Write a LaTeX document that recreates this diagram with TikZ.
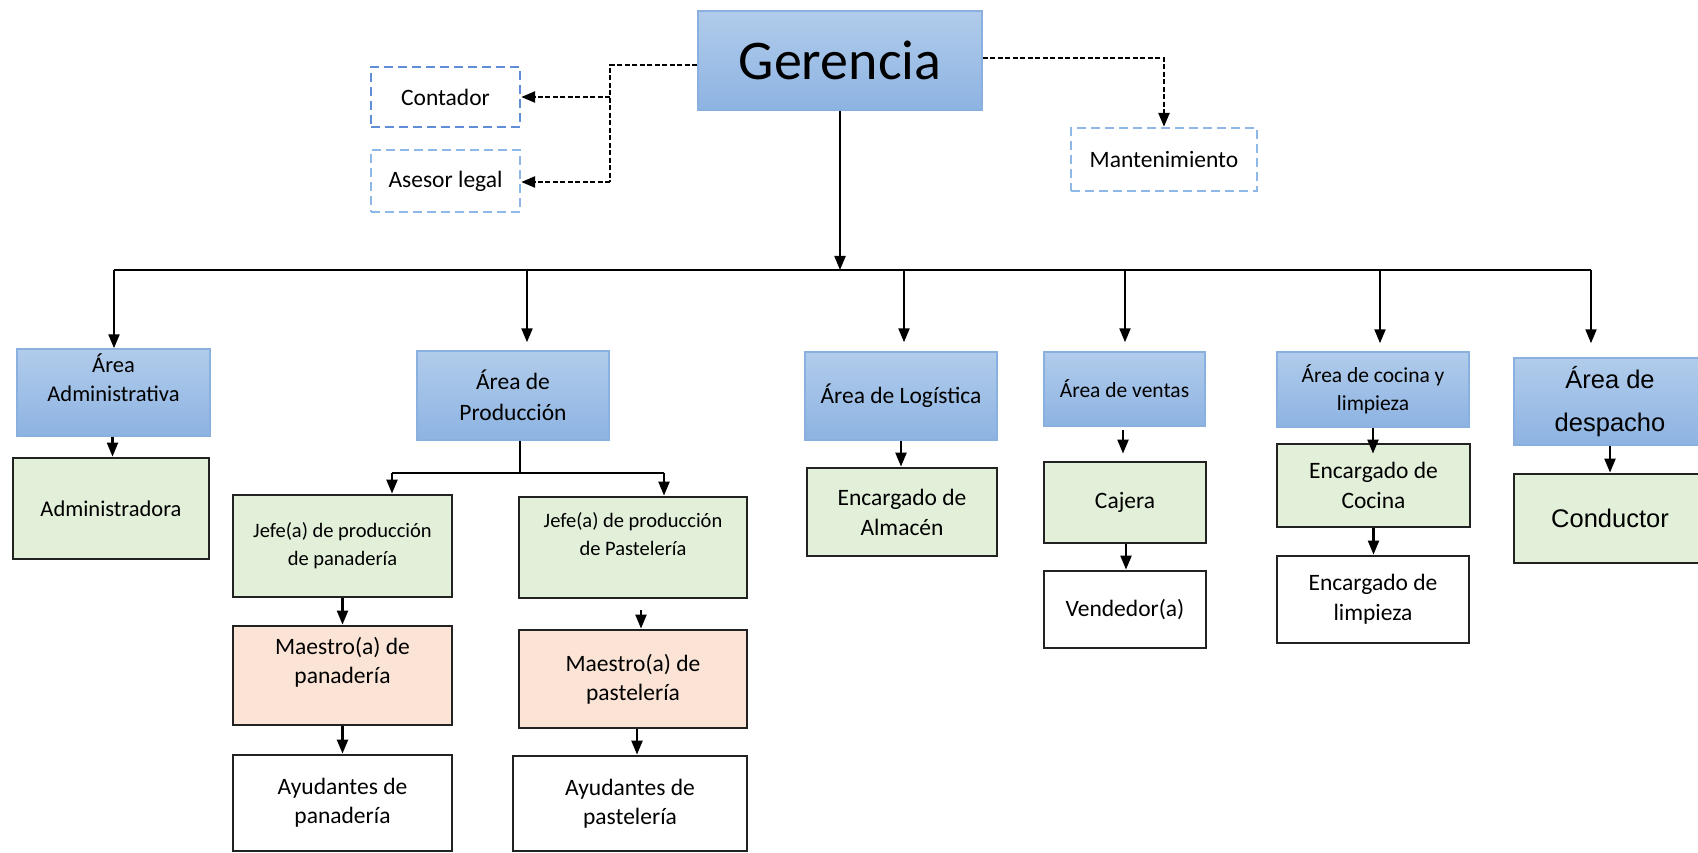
\documentclass[tikz,border=0pt]{standalone}
\usepackage{fontspec}
\setmainfont{Carlito}
\newfontfamily\arialf{Liberation Sans}
\usetikzlibrary{arrows.meta,calc}
\definecolor{blueTop}{HTML}{B1CCEB}
\definecolor{blueBot}{HTML}{8DB3E2}
\definecolor{blueBorder}{HTML}{8AB0E0}
\definecolor{greenF}{HTML}{E2EFD9}
\definecolor{peachF}{HTML}{FBE4D5}
\definecolor{darkB}{HTML}{222222}
\definecolor{dashBlueA}{HTML}{5F8DD6}
\definecolor{dashBlueB}{HTML}{8DB8E8}
\tikzset{
  bluebox/.style={rectangle, draw=blueBorder, line width=1.5pt, top color=blueTop, bottom color=blueBot, align=center, inner sep=0pt},
  greenbox/.style={rectangle, draw=darkB, line width=2.8pt, fill=greenF, align=center, inner sep=0pt},
  peachbox/.style={rectangle, draw=darkB, line width=2.8pt, fill=peachF, align=center, inner sep=0pt},
  whitebox/.style={rectangle, draw=darkB, line width=2.8pt, fill=white, align=center, inner sep=0pt},
  dbox/.style={rectangle, draw=#1, dash pattern=on 9pt off 5pt, line width=2.4pt, fill=white, align=center, inner sep=0pt},
  txt/.style={align=center, inner sep=0pt},
  conn/.style={line width=2.2pt, draw=black, -{Triangle[length=14pt,width=11pt]}},
  plain/.style={line width=2.2pt, draw=black},
  dconn/.style={line width=2.6pt, draw=black, dash pattern=on 5pt off 2.5pt, -{Triangle[length=14pt,width=11pt]}},
  dplain/.style={line width=2.6pt, draw=black, dash pattern=on 5pt off 2.5pt},
  fA/.style={font=\fontsize{23.5}{30}\selectfont},
}
\begin{document}
\begin{tikzpicture}[x=1pt,y=-1pt]
\useasboundingbox (0,0) rectangle (1698,853);
\begin{scope}
\clip (0,0) rectangle (1698,853);
\fill[white] (0,0) rectangle (1698,853);

% top level
\node[bluebox, minimum width=284pt, minimum height=99pt, font=\fontsize{56}{60}\selectfont] (ger) at (840,60.5) {Gerencia};
\node[dbox=dashBlueA, minimum width=149pt, minimum height=60pt, fA] (con) at (445.5,97) {Contador};
\node[dbox=dashBlueB, minimum width=149pt, minimum height=62pt, fA] (ase) at (445.5,181) {Asesor legal};
\node[dbox=dashBlueB, minimum width=186pt, minimum height=63pt, fA] (man) at (1164,159.5) {Mantenimiento};

% areas
\node[bluebox, minimum width=193pt, minimum height=87pt] (aadm) at (113.5,392.5) {};
\node[txt, font=\fontsize{22.5}{29}\selectfont] (aadmT) at (113.5,378) {Área\\Administrativa};
\node[bluebox, minimum width=192pt, minimum height=89pt, font=\fontsize{23.5}{31}\selectfont] (apro) at (513,395.5) {Área de\\Producción};
\node[bluebox, minimum width=192pt, minimum height=88pt, fA] (alog) at (901,396) {Área de Logística};
\node[bluebox, minimum width=161pt, minimum height=74pt, font=\fontsize{21.5}{28}\selectfont] (aven) at (1124.5,389) {Área de ventas};
\node[bluebox, minimum width=192pt, minimum height=75pt, font=\fontsize{21.5}{27.5}\selectfont] (acoc) at (1373,389.5) {Área de cocina y\\limpieza};
\node[bluebox, minimum width=192pt, minimum height=87pt, font=\arialf\fontsize{25.5}{43}\selectfont] (ades) at (1610,401.5) {Área de\\despacho};

% level 3
\node[greenbox, minimum width=196pt, minimum height=101pt, font=\fontsize{22.5}{29}\selectfont] (adm) at (111,508.5) {Administradora};
\node[greenbox, minimum width=219pt, minimum height=102pt, font=\fontsize{20.5}{28}\selectfont] (jpan) at (342.5,546) {Jefe(a) de producción\\de panadería};
\node[greenbox, minimum width=228pt, minimum height=101pt] (jpas) at (633,547.5) {};
\node[txt, font=\fontsize{20.5}{28}\selectfont] (jpasT) at (633,534) {Jefe(a) de producción\\de Pastelería};
\node[greenbox, minimum width=190pt, minimum height=88pt, fA] (alm) at (902,512) {Encargado de\\Almacén};
\node[greenbox, minimum width=162pt, minimum height=81pt, fA] (caj) at (1125,502.5) {Cajera};
\node[greenbox, minimum width=193pt, minimum height=83pt, fA] (ecoc) at (1373.5,485.5) {Encargado de\\Cocina};
\node[greenbox, minimum width=192pt, minimum height=89pt, font=\arialf\fontsize{25.5}{30}\selectfont] (cond) at (1610,518.5) {Conductor};

% level 4
\node[peachbox, minimum width=219pt, minimum height=99pt] (mpan) at (342.5,675.5) {};
\node[txt, font=\fontsize{23.5}{29}\selectfont] (mpanT) at (342.5,662) {Maestro(a) de\\panadería};
\node[peachbox, minimum width=228pt, minimum height=98pt, font=\fontsize{23.5}{29}\selectfont] (mpas) at (633,679) {Maestro(a) de\\pastelería};
\node[whitebox, minimum width=162pt, minimum height=77pt, fA] (ven) at (1125,609.5) {Vendedor(a)};
\node[whitebox, minimum width=192pt, minimum height=87pt, fA] (elim) at (1373,599.5) {Encargado de\\limpieza};

% level 5
\node[whitebox, minimum width=219pt, minimum height=96pt, font=\fontsize{23.5}{29}\selectfont] (apan) at (342.5,803) {Ayudantes de\\panadería};
\node[whitebox, minimum width=234pt, minimum height=95pt, font=\fontsize{23.5}{29}\selectfont] (apas) at (630,803.5) {Ayudantes de\\pastelería};

% dashed staff connectors
\coordinate (dj) at (610,65);
\coordinate (dk) at (610,182);
\draw[dplain] (ger.west |- dj) -- (dj) -- (dk);
\draw[dconn] (con.east -| dj) -- (con.east);
\draw[dconn] (dk) -- (ase.east |- dk);
\coordinate (dm) at (1164,58);
\draw[dconn] (ger.east |- dm) -| (man.north);

% bus
\coordinate (busL) at (114,270);
\coordinate (busR) at (1591,270);
\draw[plain] (busL) -- (busR);
\draw[conn] (ger.south) -- (ger.south |- busL);
\draw[conn] (busL) -- (busL |- aadm.north);
\draw[conn] ([xshift=14pt]apro.north |- busL) -- ([xshift=14pt,yshift=8pt]apro.north);
\draw[conn] ([xshift=3pt]alog.north |- busL) -- ([xshift=3pt,yshift=9pt]alog.north);
\draw[conn] ([xshift=0.5pt]aven.north |- busL) -- ([xshift=0.5pt,yshift=9pt]aven.north);
\draw[conn] ([xshift=7pt]acoc.north |- busL) -- ([xshift=7pt,yshift=8pt]acoc.north);
\draw[conn] (busR) -- ([yshift=14pt]ades.north -| busR);

% production split
\coordinate (sL) at (392,473);
\coordinate (sR) at (664,473);
\draw[plain] ([xshift=7pt]apro.south) -- ([xshift=7pt]apro.south |- sL);
\draw[plain] (sL) -- (sR);
\draw[conn] (sL) -- (sL |- jpan.north);
\draw[conn] (sR) -- (sR |- jpas.north);

% sub connectors
\draw[conn] ([xshift=-1pt]aadm.south) -- ([xshift=-1pt]aadm.south |- adm.north);
\draw[conn] (jpan.south) -- (jpan.south |- mpan.north);
\draw[conn] ([xshift=8pt,yshift=-11pt]jpas.south) -- ([xshift=8pt]jpas.south |- mpas.north);
\draw[conn] (mpan.south) -- (mpan.south |- apan.north);
\draw[conn] ([xshift=4pt]mpas.south) -- ([xshift=4pt]mpas.south |- apas.north);
\draw[conn] (alog.south) -- (alog.south |- alm.north);
\draw[conn] ([xshift=-1.5pt,yshift=-3pt]aven.south) -- ([xshift=-1.5pt,yshift=7pt]aven.south |- caj.north);
\draw[conn] ([xshift=1pt]caj.south) -- ([xshift=1pt]caj.south |- ven.north);
\draw[conn] (acoc.south) -- ([yshift=-11pt]acoc.south |- ecoc.north);
\draw[conn] (ecoc.south) -- (ecoc.south |- elim.north);
\draw[conn] (ades.south) -- (ades.south |- cond.north);
\end{scope}
\end{tikzpicture}
\end{document}
